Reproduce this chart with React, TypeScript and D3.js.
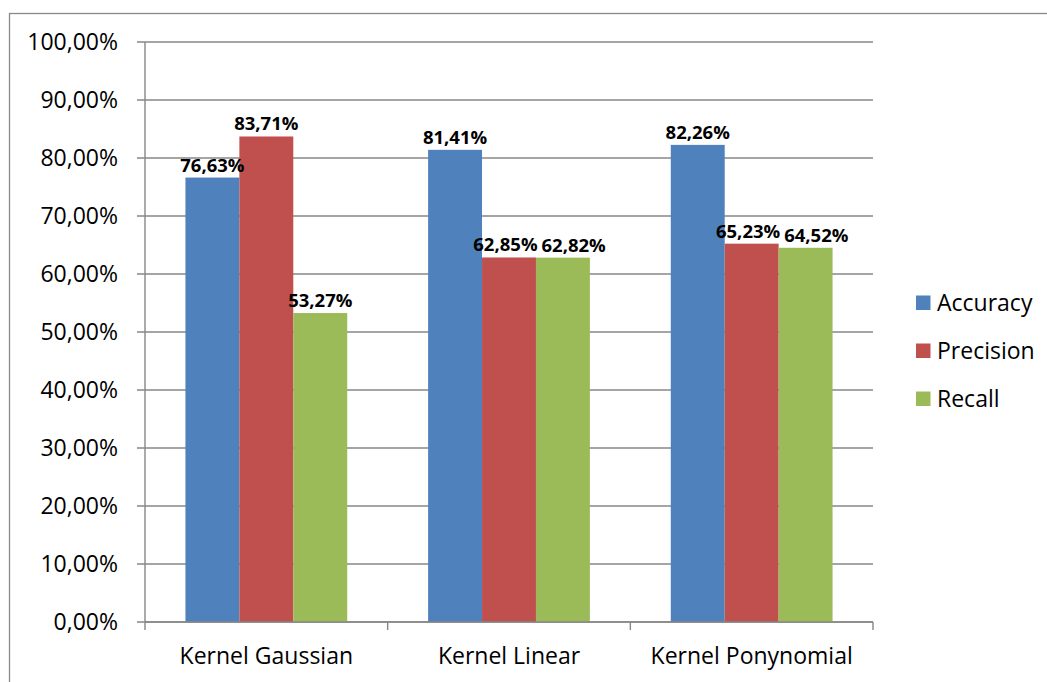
import React from "react";
import * as d3 from "d3";

const categories = ["Kernel Gaussian", "Kernel Linear", "Kernel Ponynomial"];
const seriesNames = ["Accuracy", "Precision", "Recall"];
const accuracy = [0.7663, 0.8141, 0.8226];
const precision = [0.8371, 0.6285, 0.6523];
const recall = [0.5327, 0.6282, 0.6452];
const yTicks = [0, 0.1, 0.2, 0.3, 0.4, 0.5, 0.6, 0.7, 0.8, 0.9, 1.0];
const colors = ["#4F81BD", "#C0504D", "#9BBB59"];

const W = 1047;
const H = 682;
const FONT = "'Open Sans', sans-serif";
const LABEL_SIZE = 18.5;

const locale = d3.formatLocale({
  decimal: ",",
  thousands: ".",
  grouping: [3],
  currency: ["", ""],
});
const pct = locale.format(".2%");

export default function App() {
  const seriesValues = [accuracy, precision, recall];
  const x0 = d3.scaleBand<string>().domain(categories).range([145, 873]).paddingInner(0).paddingOuter(0);
  const x1 = d3
    .scaleBand<string>()
    .domain(seriesNames)
    .range([0, x0.bandwidth()])
    .paddingInner(0)
    .paddingOuter(0.75);
  const y = d3.scaleLinear().domain([0, 1]).range([622, 42]);
  const gridColor = "#878787";
  const xLeft = x0.range()[0];
  const xRight = x0.range()[1];
  const catTicks = [...categories.map((c) => x0(c) as number), xRight];

  // data label positions with simple overlap avoidance (like Excel)
  const labelW = LABEL_SIZE * 3.47;
  const labels: { key: string; x: number; y: number; text: string }[] = [];
  categories.forEach((c, ci) => {
    const items = seriesNames.map((s, si) => {
      const v = seriesValues[si][ci];
      return {
        key: c + s,
        x: (x0(c) as number) + (x1(s) as number) + x1.bandwidth() / 2,
        y: y(v) - 6,
        text: pct(v),
      };
    });
    for (let i = 1; i < items.length; i++) {
      const a = items[i - 1];
      const b = items[i];
      if (Math.abs(a.y - b.y) < LABEL_SIZE) {
        const overlap = labelW + 4 - (b.x - a.x);
        if (overlap > 0) {
          a.x -= overlap * 0.25;
          b.x += overlap * 0.75;
        }
      }
    }
    labels.push(...items);
  });

  return (
    <svg
      width={W}
      height={H}
      style={{ position: "absolute", left: 0, top: 0, background: "#fff" }}
      fontFamily={FONT}
    >
      <rect x={0} y={0} width={W} height={H} fill="#fff" />
      <rect x={9.5} y={13.5} width={1045} height={690} fill="none" stroke="#898989" strokeWidth={1.3} />

      {/* gridlines + y ticks */}
      {yTicks.map((t) => (
        <g key={t}>
          <line x1={xLeft - 8} x2={xRight} y1={y(t)} y2={y(t)} stroke={gridColor} strokeWidth={1.4} />
          <text x={118} y={y(t) + 8} textAnchor="end" fontSize={23} fill="#000">
            {pct(t)}
          </text>
        </g>
      ))}

      {/* bars */}
      {categories.map((c, ci) => (
        <g key={c} transform={`translate(${x0(c)},0)`}>
          {seriesNames.map((s, si) => {
            const v = seriesValues[si][ci];
            return (
              <rect
                key={s}
                x={x1(s)}
                y={y(v)}
                width={x1.bandwidth()}
                height={y(0) - y(v)}
                fill={colors[si]}
              />
            );
          })}
        </g>
      ))}

      {/* y axis */}
      <line x1={xLeft} x2={xLeft} y1={y(1)} y2={y(0)} stroke={gridColor} strokeWidth={1.4} />
      {/* x axis */}
      <line x1={xLeft} x2={xRight} y1={y(0)} y2={y(0)} stroke={gridColor} strokeWidth={1.4} />
      {catTicks.map((t, i) => (
        <line key={i} x1={t} x2={t} y1={y(0)} y2={y(0) + 8} stroke={gridColor} strokeWidth={1.4} />
      ))}

      {/* data labels */}
      {labels.map((l) => (
        <text
          key={l.key}
          x={l.x}
          y={l.y}
          textAnchor="middle"
          fontSize={LABEL_SIZE}
          fontWeight="bold"
          fill="#000"
        >
          {l.text}
        </text>
      ))}

      {/* category labels */}
      {categories.map((c) => (
        <text
          key={c + "x"}
          x={(x0(c) as number) + x0.bandwidth() / 2}
          y={664}
          textAnchor="middle"
          fontSize={23}
          fill="#000"
        >
          {c}
        </text>
      ))}

      {/* legend */}
      {seriesNames.map((s, i) => {
        const cy = 302.5 + i * 48;
        return (
          <g key={s + "lg"}>
            <rect x={916} y={cy - 7} width={14.5} height={14.5} fill={colors[i]} />
            <text x={937} y={cy + 8} fontSize={23} fill="#000">
              {s}
            </text>
          </g>
        );
      })}
    </svg>
  );
}
